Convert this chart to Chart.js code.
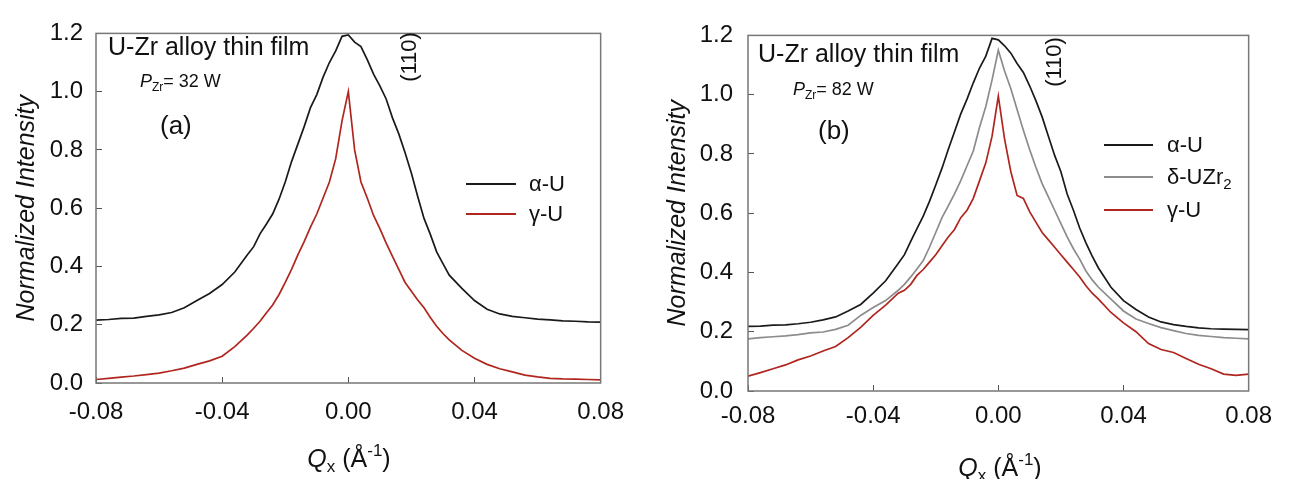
<!DOCTYPE html>
<html>
<head>
<meta charset="utf-8">
<script src="https://cdn.jsdelivr.net/npm/chart.js@4.4.1/dist/chart.umd.min.js"></script>
<style>
  html, body { margin: 0; padding: 0; background: #fff; }
  #wrap { position: relative; width: 1289px; height: 479px; }
  #wrap canvas { position: absolute; top: 0; }
  #chartA { left: 0; }
  #chartB { left: 645px; }
</style>
</head>
<body>
<div id="wrap">
  <canvas id="chartA" width="645" height="479"></canvas>
  <canvas id="chartB" width="644" height="479"></canvas>
</div>
<script>
const FONT = "'Liberation Sans', Arial, sans-serif";

// Q_x grid (1/Å): coarse in the tails, finer around the peak
const qx = [
  -0.080, -0.076, -0.072, -0.068, -0.064, -0.060, -0.056, -0.052, -0.048, -0.044, -0.040, -0.036, -0.032,
  -0.030, -0.028, -0.026, -0.024, -0.022, -0.020, -0.018, -0.016, -0.014, -0.012, -0.010, -0.008, -0.006, -0.004, -0.002,
  0.000,
  0.002, 0.004, 0.006, 0.008, 0.010, 0.012, 0.014, 0.016, 0.018, 0.020, 0.022, 0.024, 0.026, 0.028, 0.030,
  0.032, 0.036, 0.040, 0.044, 0.048, 0.052, 0.056, 0.060, 0.064, 0.068, 0.072, 0.076, 0.080
];

// (a) P_Zr = 32 W
const alphaA = [
  0.216, 0.218, 0.222, 0.223, 0.229, 0.234, 0.242, 0.258, 0.283, 0.307, 0.338, 0.381, 0.440,
  0.468, 0.512, 0.545, 0.580, 0.630, 0.690, 0.760, 0.820, 0.880, 0.945, 0.990, 1.050, 1.100, 1.140, 1.190,
  1.195,
  1.170, 1.155, 1.110, 1.060, 1.020, 0.975, 0.910, 0.855, 0.790, 0.720, 0.640, 0.565, 0.510, 0.450, 0.410,
  0.370, 0.325, 0.283, 0.253, 0.237, 0.229, 0.224, 0.219, 0.217, 0.213, 0.212, 0.210, 0.209
];
const gammaA = [
  0.012, 0.016, 0.020, 0.024, 0.029, 0.034, 0.042, 0.051, 0.064, 0.076, 0.092, 0.125, 0.165,
  0.188, 0.212, 0.240, 0.268, 0.303, 0.345, 0.390, 0.440, 0.485, 0.535, 0.580, 0.635, 0.690, 0.770, 0.900,
  1.000,
  0.800, 0.690, 0.635, 0.575, 0.530, 0.480, 0.435, 0.390, 0.345, 0.315, 0.285, 0.258, 0.225, 0.195, 0.170,
  0.148, 0.112, 0.085, 0.064, 0.049, 0.038, 0.027, 0.021, 0.016, 0.014, 0.013, 0.012, 0.011
];

// (b) P_Zr = 82 W
const alphaB = [
  0.218, 0.219, 0.222, 0.223, 0.227, 0.232, 0.240, 0.250, 0.270, 0.292, 0.330, 0.372, 0.430,
  0.460, 0.505, 0.548, 0.590, 0.640, 0.695, 0.752, 0.815, 0.875, 0.935, 0.985, 1.040, 1.090, 1.130, 1.190,
  1.185,
  1.165, 1.140, 1.105, 1.075, 1.030, 0.980, 0.925, 0.860, 0.795, 0.740, 0.665, 0.610, 0.550, 0.500, 0.455,
  0.415, 0.350, 0.305, 0.275, 0.250, 0.233, 0.224, 0.218, 0.213, 0.210, 0.209, 0.208, 0.207
];
const deltaB = [
  0.176, 0.180, 0.183, 0.186, 0.190, 0.196, 0.199, 0.208, 0.222, 0.255, 0.282, 0.305, 0.340,
  0.360, 0.385, 0.412, 0.440, 0.485, 0.535, 0.585, 0.625, 0.665, 0.710, 0.760, 0.810, 0.890, 0.960, 1.050,
  1.150,
  1.080, 1.020, 0.950, 0.880, 0.815, 0.755, 0.700, 0.655, 0.610, 0.565, 0.520, 0.480, 0.445, 0.405, 0.375,
  0.350, 0.310, 0.270, 0.243, 0.228, 0.214, 0.204, 0.194, 0.188, 0.184, 0.180, 0.178, 0.176
];
const gammaB = [
  0.050, 0.062, 0.075, 0.088, 0.105, 0.118, 0.135, 0.150, 0.180, 0.215, 0.255, 0.290, 0.330,
  0.340, 0.360, 0.390, 0.410, 0.435, 0.460, 0.490, 0.520, 0.545, 0.585, 0.610, 0.650, 0.710, 0.770, 0.860,
  0.995,
  0.850, 0.740, 0.660, 0.650, 0.605, 0.570, 0.535, 0.510, 0.485, 0.460, 0.435, 0.410, 0.385, 0.355, 0.330,
  0.310, 0.265, 0.230, 0.200, 0.160, 0.140, 0.130, 0.110, 0.090, 0.075, 0.057, 0.053, 0.057
];

const BLACK = '#1a1a1a', GREY = '#8c8c8c', RED = '#b0261f';

const pts = (ys) => qx.map((x, i) => ({ x, y: ys[i] }));
const line = (label, ys, color) => ({
  label, data: pts(ys), borderColor: color, backgroundColor: color,
  borderWidth: 1.7, pointRadius: 0, tension: 0, fill: false,
});

// small rich-text helper: *italic*, _{sub}, ^{sup}
function runsOf(str, size) {
  return str.split(/(\*[^*]+\*|_\{[^}]*\}|\^\{[^}]*\})/).filter(Boolean).map((p) => {
    const small = `${Math.round(size * 0.68)}px ${FONT}`;
    if (p[0] === '*') return { t: p.slice(1, -1), font: `italic ${size}px ${FONT}`, dy: 0 };
    if (p[0] === '_') return { t: p.slice(2, -1), font: small, dy: size * 0.3 };
    if (p[0] === '^') return { t: p.slice(2, -1), font: small, dy: -size * 0.34 };
    return { t: p, font: `${size}px ${FONT}`, dy: 0 };
  });
}
function drawRich(ctx, str, size, x, y, align, rot) {
  const runs = runsOf(str, size);
  let w = 0;
  runs.forEach((r) => { ctx.font = r.font; r.w = ctx.measureText(r.t).width; w += r.w; });
  ctx.save();
  ctx.translate(x, y);
  if (rot) ctx.rotate(rot);
  let cx = align === 'center' ? -w / 2 : 0;
  ctx.textAlign = 'left';
  ctx.textBaseline = 'middle';
  ctx.fillStyle = '#111';
  runs.forEach((r) => { ctx.font = r.font; ctx.fillText(r.t, cx, r.dy); cx += r.w; });
  ctx.restore();
}

// grey box round the plot area
const frame = {
  id: 'frame',
  afterDraw(chart) {
    const { ctx, chartArea: a } = chart;
    ctx.save();
    ctx.strokeStyle = '#777';
    ctx.lineWidth = 1.5;
    ctx.strokeRect(a.left, a.top, a.right - a.left, a.bottom - a.top);
    ctx.restore();
  },
};

const makeNotes = (items) => ({
  id: 'notes',
  afterDraw(chart) {
    items.forEach((n) => drawRich(chart.ctx, n.text, n.size, n.x, n.y, n.align || 'left', n.rot || 0));
  },
});

// legend drawn inside the plot, one row per dataset
const makeKey = (k) => ({
  id: 'key',
  afterDraw(chart) {
    const ctx = chart.ctx;
    chart.data.datasets.forEach((ds, i) => {
      const y = k.ys[i];
      ctx.save();
      ctx.strokeStyle = ds.borderColor;
      ctx.lineWidth = 2;
      ctx.beginPath();
      ctx.moveTo(k.x1, y);
      ctx.lineTo(k.x2, y);
      ctx.stroke();
      ctx.restore();
      drawRich(ctx, ds.label, 22, k.tx, y + 1, 'left', 0);
    });
  },
});

function buildChart(id, datasets, lay, notes, key) {
  const grid = { drawOnChartArea: false, drawTicks: true, tickLength: -6, color: '#555', lineWidth: 1 };
  return new Chart(document.getElementById(id), {
    type: 'line',
    data: { datasets },
    options: {
      responsive: false,
      animation: false,
      layout: { padding: { top: lay.top, right: lay.right, left: 0, bottom: 0 } },
      plugins: { legend: { display: false }, tooltip: { enabled: false } },
      scales: {
        x: {
          type: 'linear', min: -0.08, max: 0.08,
          ticks: {
            stepSize: 0.04, padding: lay.xPad, color: '#111', maxRotation: 0, autoSkip: false,
            font: { family: FONT, size: 24 },
            callback: (v) => (Math.abs(v) < 1e-9 ? 0 : v).toFixed(2),
          },
          grid, border: { display: false },
          afterFit: (s) => { s.height = lay.bottom; },
        },
        y: {
          min: 0, max: 1.2,
          ticks: {
            stepSize: 0.2, padding: lay.yPad, color: '#111',
            font: { family: FONT, size: 24 },
            callback: (v) => v.toFixed(1),
          },
          title: {
            display: true, text: 'Normalized Intensity', color: '#111',
            font: { family: FONT, size: 25, style: 'italic' },
            padding: { top: lay.yTitle, bottom: 0 },
          },
          grid, border: { display: false },
          afterFit: (s) => { s.width = lay.left; },
        },
      },
    },
    plugins: [frame, makeNotes(notes), makeKey(key)],
  });
}

buildChart('chartA',
  [line('α-U', alphaA, BLACK), line('γ-U', gammaA, RED)],
  { left: 96, right: 43, top: 22, bottom: 96, xPad: 21, yPad: 19, yTitle: 12 },
  [
    { text: 'U-Zr alloy thin film', size: 25, x: 108, y: 48 },
    { text: '*P*_{Zr}= 32 W', size: 18, x: 140, y: 82 },
    { text: '(a)', size: 26, x: 160, y: 127 },
    { text: '(110)', size: 22, x: 410, y: 57, align: 'center', rot: -Math.PI / 2 },
    { text: '*Q*_{x} (Å^{-1})', size: 25, x: 349, y: 460, align: 'center' },
  ],
  { x1: 466, x2: 516, tx: 529, ys: [184, 214] }
);

buildChart('chartB',
  [line('α-U', alphaB, BLACK), line('δ-UZr_{2}', deltaB, GREY), line('γ-U', gammaB, RED)],
  { left: 103, right: 37, top: 29, bottom: 88, xPad: 17, yPad: 21, yTitle: 18 },
  [
    { text: 'U-Zr alloy thin film', size: 25, x: 113, y: 55 },
    { text: '*P*_{Zr}= 82 W', size: 18, x: 148, y: 90 },
    { text: '(b)', size: 26, x: 173, y: 132 },
    { text: '(110)', size: 22, x: 410, y: 62, align: 'center', rot: -Math.PI / 2 },
    { text: '*Q*_{x} (Å^{-1})', size: 25, x: 355, y: 469, align: 'center' },
  ],
  { x1: 459, x2: 508, tx: 522, ys: [145, 177, 210] }
);
</script>
</body>
</html>
